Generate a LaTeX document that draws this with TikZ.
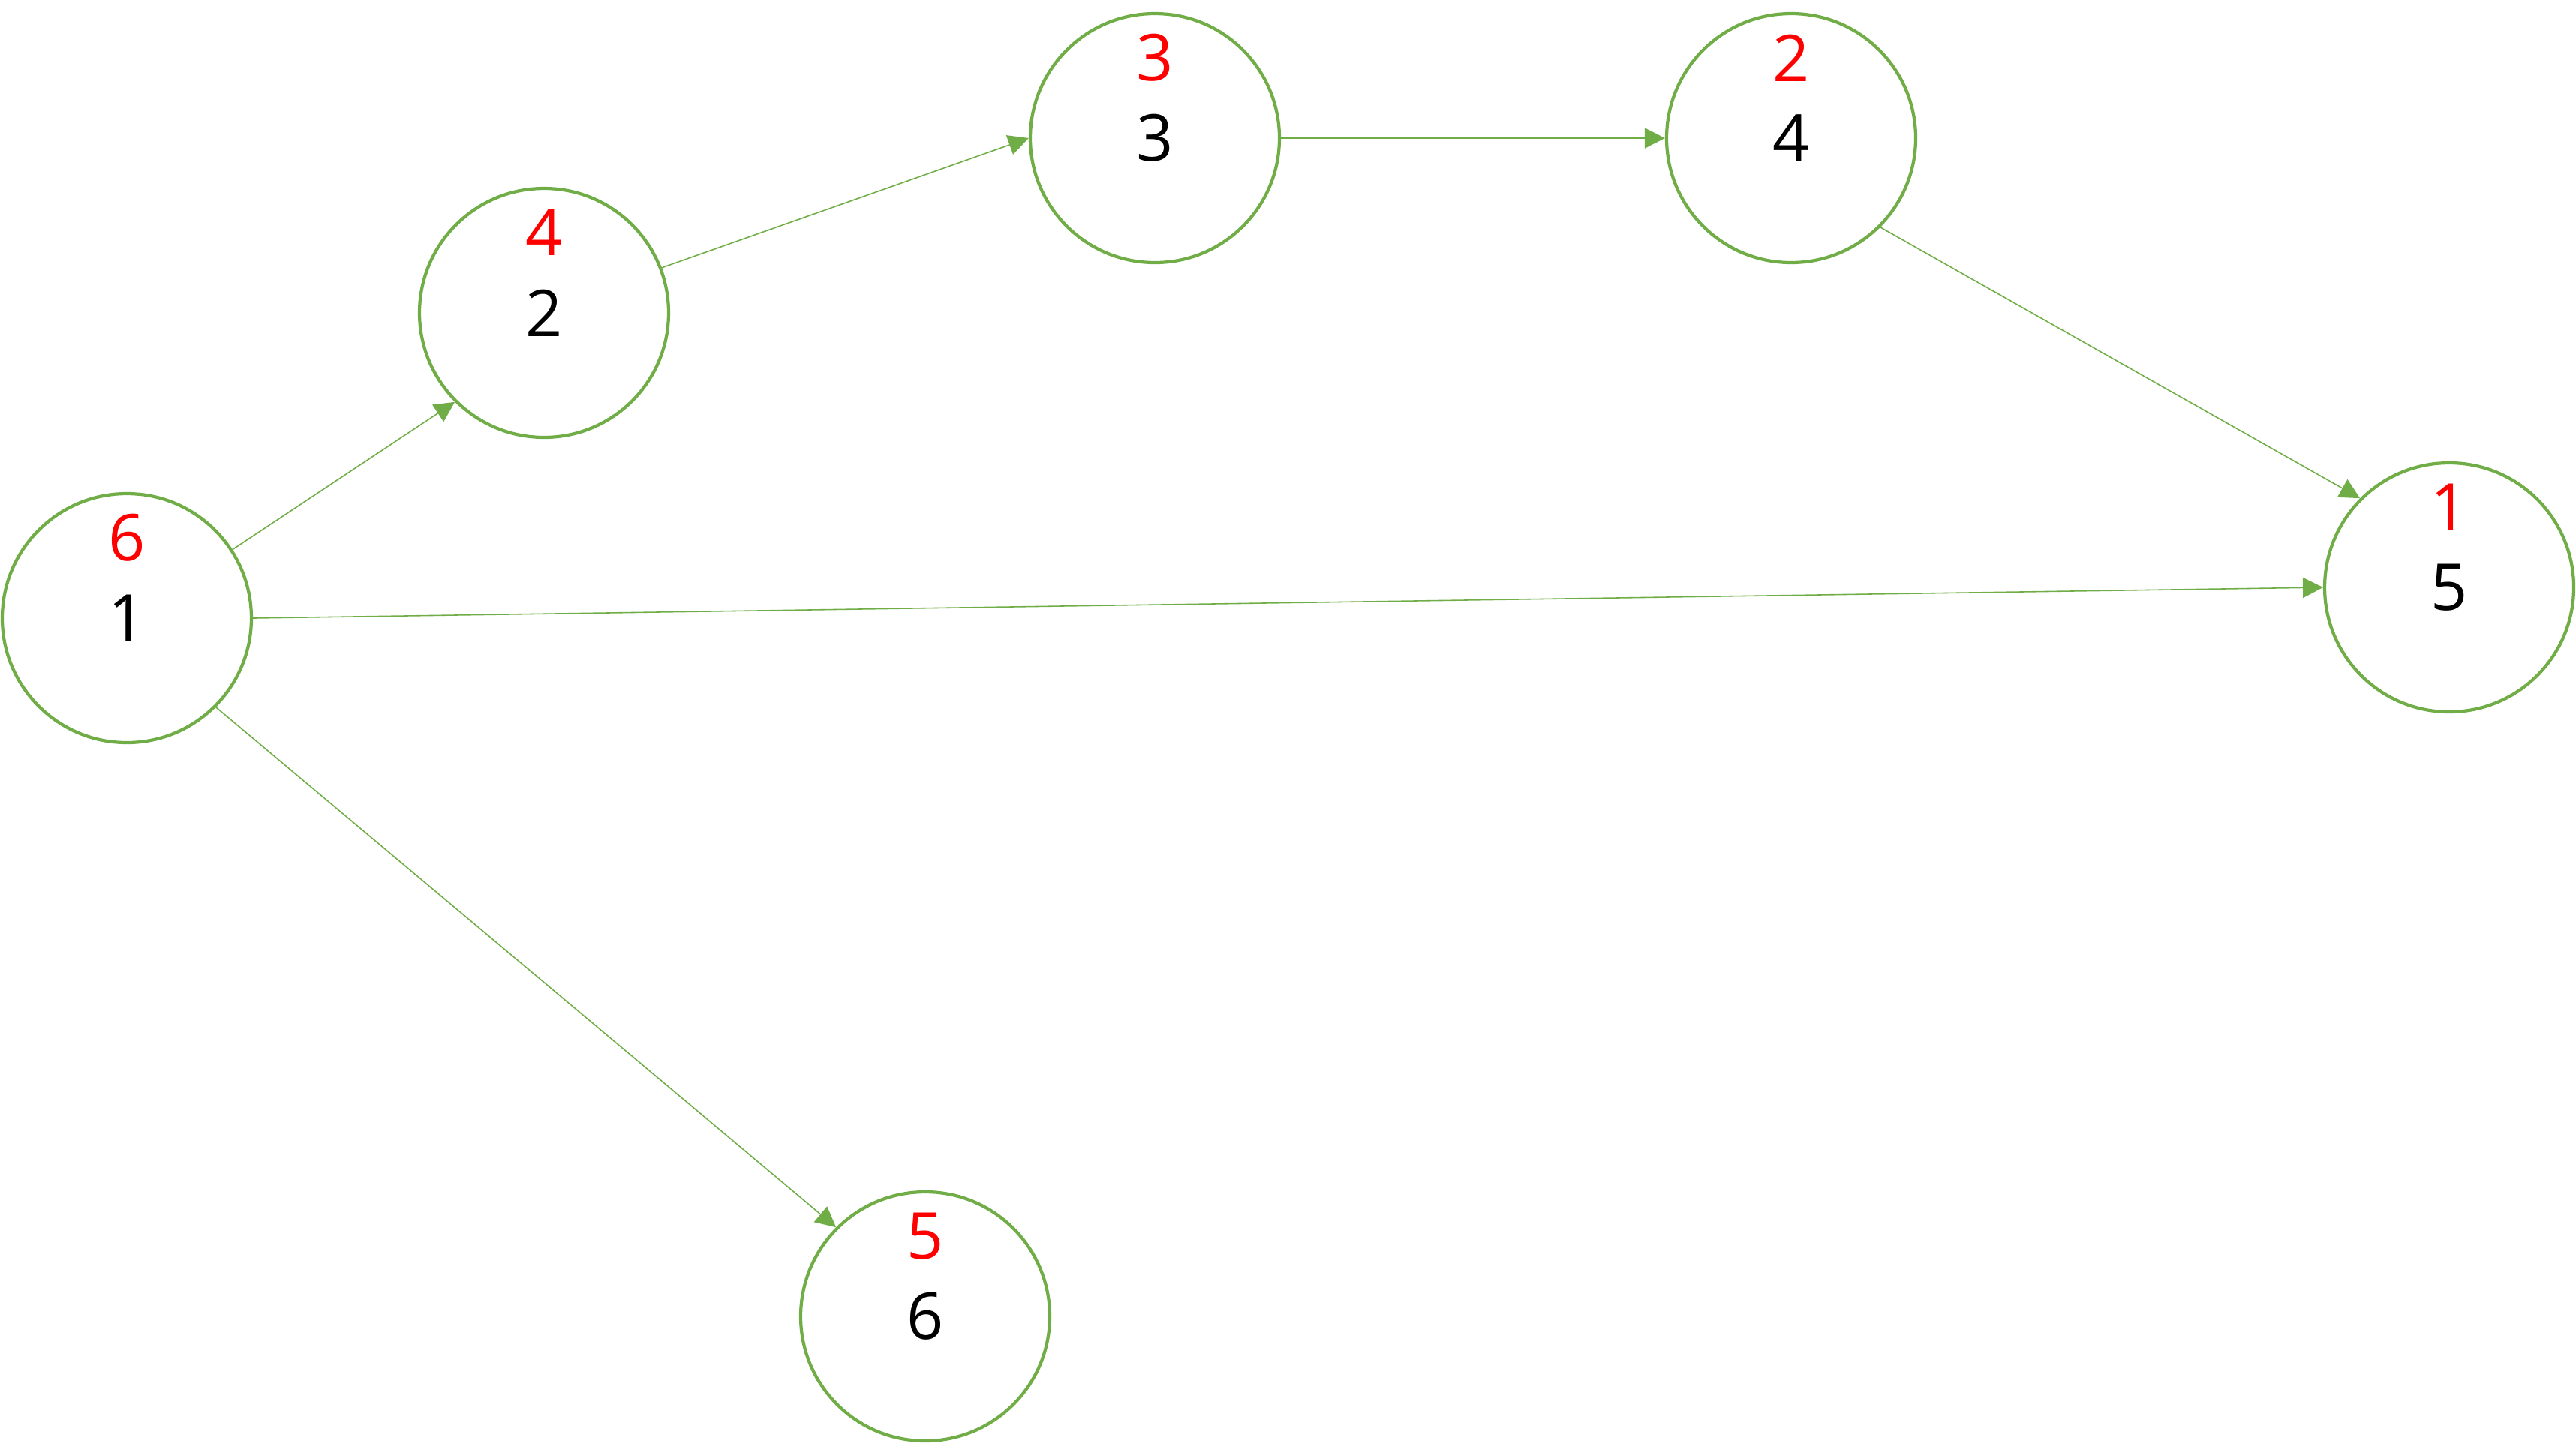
\documentclass[tikz,border=0pt]{standalone}
\usepackage{fontspec}
\setmainfont{Open Sans}
\usetikzlibrary{arrows.meta}
\definecolor{vgreen}{HTML}{70AD47}
\begin{document}
\begin{tikzpicture}[
	vtx/.style={circle, draw=vgreen, line width=1.2pt, minimum size=3.32cm, inner sep=0pt, font=\fontsize{24.5}{29}\selectfont},
	ord/.style={text=red, yshift=1.07cm, font=\fontsize{24.5}{29}\selectfont},
	link/.style={vgreen, line width=0.45pt, -{Triangle[length=0.27cm, width=0.27cm]}}]
	\useasboundingbox (0,0) rectangle (34.33,-19.24);
	% 顶点, 红色为序号
	\node [vtx, label={[ord]center:6}] (v1) at (1.69,-8.24) {1};
	\node [vtx, label={[ord]center:4}] (v2) at (7.25,-4.17) {2};
	\node [vtx, label={[ord]center:3}] (v3) at (15.39,-1.84) {3};
	\node [vtx, label={[ord]center:2}] (v4) at (23.87,-1.84) {4};
	\node [vtx, label={[ord]center:1}] (v5) at (32.64,-7.83) {5};
	\node [vtx, label={[ord]center:5}] (v6) at (12.33,-17.55) {6};
	% 有向边
	\draw [link] (v1.33) -- (v2.225);
	\draw [link] (v2.21) -- (v3.west);
	\draw [link] (v3.east) -- (v4.west);
	\draw [link] (v4.-45) -- (v5.135);
	\draw [link] (v1.east) -- (v5.west);
	\draw [link] (v1.-45) -- (v6.135);
\end{tikzpicture}
\end{document}
